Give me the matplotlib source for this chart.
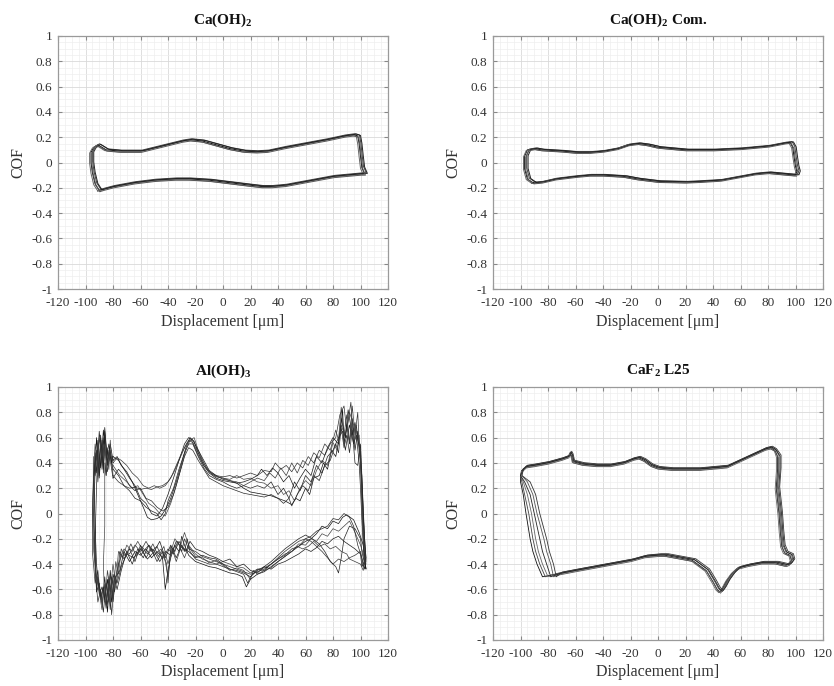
import matplotlib
matplotlib.use("Agg")
import matplotlib.pyplot as plt
from matplotlib.ticker import MultipleLocator
import numpy as np

plt.rcParams['font.family'] = ['Liberation Serif', 'DejaVu Serif']
plt.rcParams['mathtext.fontset'] = 'custom'
plt.rcParams['mathtext.rm'] = 'Liberation Serif'
plt.rcParams['mathtext.bf'] = 'Liberation Serif:bold'
plt.rcParams['axes.unicode_minus'] = False

titles = ["Ca(OH)$_\\mathbf{2}$", "Ca(OH)$_\\mathbf{2}$ Com.", "Al(OH)$_\\mathbf{3}$", "CaF$_\\mathbf{2}$ L25"]
x_ticks = [-120, -100, -80, -60, -40, -20, 0, 20, 40, 60, 80, 100, 120]
y_ticks = [-1, -0.8, -0.6, -0.4, -0.2, 0, 0.2, 0.4, 0.6, 0.8, 1]
y_tick_labels = ["-1", "-0.8", "-0.6", "-0.4", "-0.2", "0", "0.2", "0.4", "0.6", "0.8", "1"]

# ---- Ca(OH)2 : base loop + small cycle offsets ----
caoh_x = [-90, -93, -95, -96, -96, -94, -91, -85, -75, -60, -45, -30, -24, -15, -5, 5, 15, 24,
          32, 45, 60, 75, 88, 95, 98, 99, 100, 101, 103, 100, 90, 80, 70, 60, 45, 35, 28, 20,
          5, -10, -25, -35, -50, -65, -80, -87, -90]
caoh_y = [-0.22, -0.17, -0.08, 0.0, 0.08, 0.12, 0.14, 0.10, 0.09, 0.09, 0.13, 0.17, 0.18, 0.17,
          0.14, 0.11, 0.09, 0.085, 0.09, 0.12, 0.15, 0.18, 0.21, 0.22, 0.21, 0.15, 0.05, -0.04,
          -0.09, -0.09, -0.10, -0.11, -0.13, -0.15, -0.18, -0.19, -0.19, -0.18, -0.16, -0.14,
          -0.13, -0.13, -0.14, -0.16, -0.19, -0.21, -0.22]
caoh_dx = [0.0, 1.2, -1.0, 2.0, 0.6]
caoh_dy = [0.0, 0.008, -0.006, 0.004, -0.010]

# ---- Ca(OH)2 Com. ----
com_x = [-91, -95, -97, -97, -95, -90, -85, -70, -60, -50, -40, -30, -22, -15, -8, 0, 10, 20,
         40, 60, 80, 92, 96, 98, 99, 100, 101, 100, 90, 80, 70, 60, 45, 30, 20, 0, -15, -25,
         -40, -50, -60, -75, -85, -90, -91]
com_y = [-0.16, -0.13, -0.05, 0.05, 0.10, 0.11, 0.10, 0.09, 0.08, 0.08, 0.09, 0.11, 0.14, 0.15,
         0.14, 0.12, 0.11, 0.10, 0.10, 0.11, 0.13, 0.155, 0.16, 0.12, 0.04, -0.03, -0.07, -0.10,
         -0.09, -0.08, -0.09, -0.11, -0.14, -0.15, -0.155, -0.15, -0.13, -0.11, -0.10, -0.10,
         -0.11, -0.13, -0.155, -0.16, -0.16]
com_dx = [0.0, 1.5, -0.8, 2.5, 0.8]
com_dy = [0.0, 0.006, -0.005, 0.003, -0.008]

# ---- CaF2 L25 : shared top/right/bottom + per-cycle left edges ----
caf_top_x = [-99, -96, -90, -80, -70, -65, -64, -63, -62, -55, -45, -35, -25, -18, -14, -10, -5,
             0, 10, 20, 30, 40, 50, 60, 70, 78, 82, 85]
caf_top_y = [0.34, 0.37, 0.38, 0.40, 0.43, 0.45, 0.48, 0.46, 0.41, 0.39, 0.38, 0.38, 0.40, 0.43,
             0.44, 0.42, 0.38, 0.36, 0.35, 0.35, 0.35, 0.36, 0.37, 0.42, 0.47, 0.51, 0.52, 0.50]
caf_right_x = [87, 87, 86, 88, 89, 90, 92, 96, 97, 95, 93]
caf_right_y = [0.45, 0.35, 0.20, 0.00, -0.15, -0.26, -0.31, -0.33, -0.37, -0.40, -0.41]
caf_bot_x = [85, 75, 65, 58, 54, 50, 47, 45, 43, 40, 35, 25, 15, 5, 0, -10, -20, -40, -60, -72]
caf_bot_y = [-0.39, -0.39, -0.41, -0.43, -0.47, -0.53, -0.59, -0.62, -0.60, -0.54, -0.45, -0.37,
             -0.35, -0.33, -0.33, -0.34, -0.37, -0.41, -0.45, -0.475]
caf_left_y = [-0.50, -0.40, -0.30, -0.20, 0.00, 0.15, 0.25, 0.30]
caf_left_x = [[-84, -88, -91, -93, -96, -98, -100, -100],
              [-82, -86, -89, -91, -94, -97, -99, -100],
              [-80, -84, -87, -89, -92, -95, -98, -100],
              [-78, -81, -84, -86, -90, -93, -97, -100],
              [-76, -78, -81, -83, -88, -91, -95, -99],
              [-74, -76, -79, -81, -86, -89, -93, -99]]
caf_dx = [0.0, 1.0, -0.8, 1.8, 0.5, 2.5]
caf_dy = [0.0, 0.008, -0.006, 0.004, -0.010, 0.012]

# ---- Al(OH)3 : individual noisy cycles, (displacement, COF) points ----
al_cycle_1 = [(-80, 0.42), (-77, 0.45), (-74, 0.38), (-70, 0.33), (-66, 0.25), (-62, 0.15), (-58, 0.05),
              (-55, -0.03), (-52, -0.05), (-48, -0.04), (-45, -0.02), (-42, 0.03), (-38, 0.12), (-34, 0.25),
              (-30, 0.40), (-27, 0.52), (-24, 0.60), (-21, 0.57), (-18, 0.48), (-14, 0.38), (-10, 0.32),
              (-5, 0.28), (0, 0.26), (5, 0.25), (10, 0.24), (15, 0.20), (20, 0.17), (25, 0.16), (30, 0.15),
              (35, 0.14), (40, 0.12), (45, 0.10), (50, 0.07), (53, 0.12), (56, 0.10), (60, 0.20), (63, 0.15),
              (66, 0.28), (70, 0.30), (73, 0.40), (76, 0.35), (79, 0.50), (82, 0.45), (85, 0.62), (87, 0.82),
              (88, 0.55), (90, 0.70), (92, 0.55), (94, 0.75), (96, 0.50), (98, 0.65), (100, 0.45), (101, 0.20),
              (102, -0.10), (103, -0.35), (104, -0.44), (102, -0.25), (99, -0.15),
              (95, -0.05), (90, -0.01), (87, -0.03), (84, -0.08), (80, -0.06), (76, -0.12), (72, -0.10),
              (68, -0.16), (64, -0.20), (60, -0.22), (55, -0.26), (50, -0.30), (45, -0.34), (40, -0.38),
              (35, -0.42), (30, -0.46), (25, -0.48), (20, -0.52), (17, -0.58), (14, -0.50), (10, -0.48),
              (5, -0.47), (0, -0.45), (-5, -0.43), (-10, -0.42), (-15, -0.40), (-20, -0.38), (-25, -0.33),
              (-28, -0.25), (-30, -0.18), (-32, -0.30), (-35, -0.25), (-38, -0.35), (-40, -0.45), (-42, -0.60),
              (-44, -0.35), (-48, -0.30), (-52, -0.35), (-56, -0.28), (-60, -0.33), (-64, -0.30), (-68, -0.38),
              (-72, -0.30), (-75, -0.45), (-78, -0.50), (-80, -0.70), (-82, -0.45), (-84, -0.78), (-86, -0.50),
              (-88, -0.72), (-90, -0.55), (-92, -0.62), (-93, -0.35), (-94, 0.00), (-93, 0.35), (-92, 0.60),
              (-90, 0.30), (-89, 0.62), (-87, 0.35), (-86, 0.68), (-84, 0.40), (-82, 0.55), (-80, 0.42)]
al_cycle_2 = [(-80, 0.30), (-76, 0.25), (-72, 0.22), (-68, 0.20), (-64, 0.21), (-60, 0.19), (-56, 0.20),
              (-52, 0.19), (-48, 0.21), (-44, 0.22), (-40, 0.25), (-36, 0.32), (-32, 0.42), (-28, 0.52),
              (-25, 0.58), (-22, 0.56), (-18, 0.46), (-14, 0.38), (-10, 0.33), (-5, 0.30), (0, 0.29), (5, 0.30),
              (10, 0.28), (15, 0.30), (20, 0.32), (25, 0.30), (30, 0.34), (35, 0.33), (38, 0.40), (42, 0.35),
              (46, 0.38), (50, 0.33), (54, 0.40), (58, 0.36), (62, 0.45), (66, 0.40), (70, 0.50), (74, 0.46),
              (78, 0.55), (82, 0.60), (85, 0.78), (88, 0.85), (90, 0.65), (93, 0.88), (95, 0.55), (97, 0.70),
              (99, 0.50), (101, 0.30), (102, 0.00), (103, -0.25), (104, -0.38), (102, -0.42), (100, -0.30),
              (96, -0.33), (92, -0.35), (88, -0.38), (84, -0.36), (80, -0.40), (76, -0.35), (72, -0.30),
              (68, -0.26), (64, -0.22), (60, -0.20), (55, -0.22), (50, -0.26), (45, -0.30), (40, -0.35),
              (35, -0.40), (30, -0.44), (25, -0.46), (20, -0.48), (15, -0.46), (10, -0.44), (5, -0.42),
              (0, -0.40), (-5, -0.38), (-10, -0.36), (-15, -0.34), (-20, -0.30), (-25, -0.28), (-28, -0.20),
              (-30, -0.30), (-33, -0.22), (-36, -0.32), (-40, -0.28), (-44, -0.36), (-48, -0.26), (-52, -0.30),
              (-56, -0.22), (-60, -0.30), (-64, -0.25), (-68, -0.32), (-72, -0.28), (-76, -0.40), (-79, -0.55),
              (-81, -0.80), (-83, -0.50), (-85, -0.72), (-87, -0.60), (-89, -0.68), (-91, -0.45), (-93, -0.55),
              (-95, -0.30), (-95, 0.00), (-94, 0.30), (-92, 0.50), (-91, 0.25), (-89, 0.55), (-88, 0.35),
              (-86, 0.62), (-84, 0.40), (-82, 0.50), (-80, 0.30)]
al_cycle_3 = [(-80, 0.35), (-76, 0.30), (-72, 0.22), (-68, 0.18), (-64, 0.12), (-60, 0.10), (-56, 0.05),
              (-52, 0.02), (-48, 0.00), (-45, -0.05), (-42, 0.00), (-40, 0.10), (-36, 0.20), (-32, 0.35),
              (-28, 0.48), (-25, 0.55), (-22, 0.55), (-18, 0.45), (-14, 0.36), (-10, 0.30), (-5, 0.27),
              (0, 0.25), (5, 0.22), (10, 0.20), (15, 0.22), (20, 0.20), (25, 0.22), (30, 0.20), (35, 0.25),
              (40, 0.15), (44, 0.20), (48, 0.12), (52, 0.25), (56, 0.18), (60, 0.30), (64, 0.25), (68, 0.38),
              (72, 0.32), (76, 0.45), (80, 0.50), (84, 0.60), (87, 0.65), (89, 0.50), (92, 0.70), (95, 0.55),
              (97, 0.62), (99, 0.40), (100, 0.20), (101, -0.05), (102, -0.25), (103, -0.40), (101, -0.30),
              (100, -0.20), (96, -0.12), (92, -0.10), (88, -0.20), (86, -0.35), (84, -0.47), (82, -0.42),
              (78, -0.38), (74, -0.30), (70, -0.24), (65, -0.20), (60, -0.17), (55, -0.20), (50, -0.24),
              (45, -0.28), (40, -0.33), (35, -0.38), (30, -0.42), (25, -0.45), (20, -0.50), (15, -0.47),
              (10, -0.45), (5, -0.44), (0, -0.40), (-5, -0.36), (-10, -0.35), (-15, -0.33), (-20, -0.35),
              (-25, -0.30), (-30, -0.27), (-34, -0.22), (-38, -0.33), (-42, -0.30), (-46, -0.38), (-50, -0.30),
              (-55, -0.36), (-60, -0.28), (-65, -0.35), (-70, -0.32), (-74, -0.42), (-77, -0.55), (-79, -0.48),
              (-81, -0.70), (-83, -0.52), (-85, -0.75), (-87, -0.58), (-89, -0.66), (-91, -0.50), (-92, -0.62),
              (-93, -0.20), (-92, 0.20), (-91, 0.50), (-90, 0.28), (-88, 0.58), (-87, 0.32), (-86, 0.65),
              (-84, 0.38), (-82, 0.45), (-80, 0.35)]
al_cycle_4 = [(-80, 0.38), (-75, 0.30), (-70, 0.25), (-66, 0.20), (-62, 0.22), (-58, 0.15), (-54, 0.08),
              (-50, 0.05), (-46, 0.00), (-42, -0.02), (-38, 0.08), (-34, 0.22), (-30, 0.38), (-27, 0.50),
              (-24, 0.58), (-21, 0.60), (-18, 0.50), (-14, 0.40), (-10, 0.33), (-5, 0.29), (0, 0.28), (5, 0.27),
              (10, 0.30), (15, 0.27), (20, 0.28), (25, 0.25), (30, 0.24), (35, 0.20), (40, 0.22), (44, 0.15),
              (48, 0.18), (52, 0.10), (56, 0.20), (60, 0.26), (64, 0.22), (68, 0.34), (72, 0.42), (76, 0.38),
              (80, 0.56), (83, 0.50), (86, 0.70), (89, 0.60), (92, 0.80), (95, 0.70), (97, 0.58), (99, 0.62),
              (100, 0.40), (101, 0.10), (102, -0.15), (103, -0.30), (104, -0.40), (102, -0.32), (100, -0.25),
              (96, -0.15), (92, -0.06), (88, -0.10), (84, -0.14), (80, -0.12), (76, -0.18), (72, -0.16),
              (68, -0.22), (64, -0.20), (60, -0.25), (55, -0.24), (50, -0.30), (45, -0.32), (40, -0.36),
              (35, -0.40), (30, -0.43), (25, -0.44), (20, -0.47), (15, -0.43), (10, -0.42), (5, -0.40),
              (0, -0.38), (-5, -0.40), (-10, -0.38), (-15, -0.36), (-20, -0.32), (-25, -0.25), (-28, -0.15),
              (-31, -0.26), (-35, -0.20), (-38, -0.30), (-40, -0.50), (-42, -0.38), (-45, -0.28), (-50, -0.33),
              (-54, -0.25), (-58, -0.30), (-62, -0.22), (-66, -0.30), (-70, -0.25), (-73, -0.35), (-76, -0.30),
              (-78, -0.55), (-80, -0.40), (-82, -0.62), (-84, -0.45), (-86, -0.70), (-87, -0.40), (-86, -0.10),
              (-86, 0.20), (-86, 0.40), (-85, 0.30), (-84, 0.52), (-83, 0.35), (-82, 0.58), (-81, 0.40),
              (-80, 0.38)]
al_cycle_5 = [(-80, 0.45), (-76, 0.42), (-72, 0.35), (-68, 0.28), (-64, 0.22), (-60, 0.12), (-56, 0.08),
              (-52, 0.00), (-48, -0.02), (-44, 0.04), (-40, 0.15), (-36, 0.28), (-32, 0.42), (-28, 0.55),
              (-25, 0.60), (-22, 0.58), (-18, 0.50), (-14, 0.42), (-10, 0.34), (-5, 0.30), (0, 0.27), (5, 0.26),
              (10, 0.24), (15, 0.25), (20, 0.27), (25, 0.30), (28, 0.35), (32, 0.30), (36, 0.36), (40, 0.32),
              (44, 0.25), (48, 0.30), (52, 0.20), (56, 0.28), (60, 0.35), (64, 0.30), (68, 0.45), (72, 0.40),
              (76, 0.52), (80, 0.60), (84, 0.55), (86, 0.75), (89, 0.60), (91, 0.82), (94, 0.62), (96, 0.72),
              (98, 0.58), (100, 0.50), (101, 0.25), (102, 0.00), (103, -0.20), (104, -0.35), (101, -0.42),
              (100, -0.32), (96, -0.28), (92, -0.25), (88, -0.22), (84, -0.18), (80, -0.20), (76, -0.24),
              (72, -0.22), (68, -0.27), (64, -0.30), (60, -0.28), (55, -0.32), (50, -0.35), (45, -0.38),
              (40, -0.40), (35, -0.44), (30, -0.42), (25, -0.47), (20, -0.45), (15, -0.40), (10, -0.42),
              (5, -0.36), (0, -0.38), (-5, -0.35), (-10, -0.33), (-15, -0.30), (-20, -0.28), (-24, -0.22),
              (-27, -0.30), (-30, -0.25), (-34, -0.35), (-38, -0.25), (-42, -0.35), (-46, -0.22), (-50, -0.30),
              (-54, -0.25), (-58, -0.35), (-62, -0.28), (-66, -0.40), (-70, -0.30), (-74, -0.45), (-77, -0.60),
              (-80, -0.48), (-82, -0.76), (-84, -0.52), (-86, -0.68), (-88, -0.58), (-90, -0.64), (-92, -0.40),
              (-93, -0.10), (-94, 0.25), (-94, 0.45), (-93, 0.30), (-91, 0.58), (-89, 0.36), (-87, 0.66),
              (-85, 0.42), (-83, 0.55), (-81, 0.40), (-80, 0.45)]
al_cycle_6 = [(-80, 0.28), (-76, 0.35), (-72, 0.30), (-68, 0.22), (-64, 0.18), (-60, 0.20), (-56, 0.12),
              (-52, 0.10), (-48, 0.05), (-44, 0.02), (-40, 0.05), (-36, 0.15), (-32, 0.30), (-28, 0.45),
              (-25, 0.52), (-22, 0.50), (-18, 0.42), (-14, 0.35), (-10, 0.28), (-5, 0.25), (0, 0.22), (5, 0.20),
              (10, 0.18), (15, 0.16), (20, 0.15), (25, 0.14), (30, 0.13), (35, 0.15), (40, 0.12), (44, 0.08),
              (48, 0.12), (50, 0.06), (54, 0.15), (58, 0.22), (62, 0.18), (66, 0.30), (70, 0.26), (74, 0.38),
              (78, 0.42), (82, 0.55), (84, 0.48), (86, 0.68), (88, 0.52), (90, 0.62), (92, 0.48), (94, 0.66),
              (96, 0.40), (98, 0.38), (100, 0.55), (101, 0.30), (102, 0.05), (103, -0.20), (104, -0.36),
              (103, -0.44), (101, -0.35),
              (98, -0.25), (95, -0.10), (92, -0.03), (88, 0.00), (84, -0.05), (80, -0.04), (76, -0.10),
              (72, -0.12), (68, -0.14), (64, -0.18), (60, -0.20), (55, -0.26), (50, -0.28), (45, -0.33),
              (40, -0.36), (35, -0.40), (30, -0.45), (25, -0.44), (20, -0.50), (18, -0.55), (15, -0.48),
              (10, -0.46), (5, -0.44), (0, -0.42), (-5, -0.40), (-10, -0.40), (-15, -0.38), (-20, -0.36),
              (-24, -0.30), (-26, -0.20), (-28, -0.30), (-32, -0.22), (-35, -0.30), (-38, -0.26), (-40, -0.55),
              (-41, -0.40), (-44, -0.30), (-48, -0.38), (-52, -0.28), (-56, -0.35), (-60, -0.25), (-64, -0.38),
              (-68, -0.28), (-72, -0.36), (-75, -0.30), (-77, -0.52), (-79, -0.62), (-81, -0.50), (-83, -0.70),
              (-85, -0.55), (-87, -0.78), (-89, -0.60), (-91, -0.70), (-93, -0.45), (-94, -0.10), (-94, 0.20),
              (-93, 0.48), (-92, 0.32), (-90, 0.65), (-88, 0.40), (-87, 0.60), (-85, 0.30), (-83, 0.50),
              (-81, 0.35), (-80, 0.28)]
al_cycle_7 = [(-80, 0.40), (-77, 0.44), (-74, 0.42), (-70, 0.38), (-66, 0.32), (-62, 0.28), (-58, 0.22),
              (-54, 0.20), (-50, 0.22), (-46, 0.20), (-42, 0.22), (-38, 0.28), (-34, 0.38), (-30, 0.48),
              (-26, 0.56), (-23, 0.58), (-20, 0.52), (-16, 0.44), (-12, 0.36), (-8, 0.31), (-4, 0.29),
              (0, 0.28), (5, 0.26), (10, 0.25), (15, 0.22), (20, 0.25), (25, 0.28), (30, 0.26), (34, 0.32),
              (38, 0.28), (42, 0.36), (46, 0.30), (50, 0.40), (54, 0.32), (58, 0.42), (62, 0.38), (66, 0.48),
              (70, 0.44), (74, 0.55), (78, 0.50), (82, 0.66), (84, 0.58), (86, 0.84), (88, 0.62), (90, 0.78),
              (92, 0.56), (94, 0.85), (96, 0.62), (98, 0.80), (99, 0.55), (100, 0.40), (101, 0.10), (102, -0.20),
              (103, -0.38), (102, -0.45), (100, -0.40),
              (96, -0.38), (92, -0.36), (90, -0.32), (86, -0.30), (82, -0.26), (78, -0.28), (74, -0.24),
              (70, -0.26), (66, -0.22), (62, -0.26), (58, -0.28), (54, -0.26), (50, -0.30), (45, -0.34),
              (40, -0.38), (35, -0.43), (30, -0.45), (25, -0.48), (22, -0.45), (20, -0.52), (15, -0.45),
              (10, -0.43), (5, -0.45), (0, -0.41), (-5, -0.37), (-10, -0.39), (-15, -0.35), (-20, -0.34),
              (-25, -0.26), (-28, -0.35), (-31, -0.28), (-34, -0.38), (-37, -0.28), (-40, -0.40), (-43, -0.26),
              (-47, -0.34), (-51, -0.24), (-55, -0.32), (-59, -0.26), (-63, -0.34), (-67, -0.24), (-71, -0.34),
              (-74, -0.28), (-76, -0.48), (-78, -0.38), (-80, -0.66), (-82, -0.48), (-84, -0.72), (-86, -0.56),
              (-88, -0.76), (-90, -0.62), (-92, -0.50), (-94, -0.30), (-95, 0.05), (-94, 0.35), (-93, 0.55),
              (-91, 0.38), (-90, 0.60), (-88, 0.45), (-86, 0.55), (-84, 0.33), (-82, 0.48), (-80, 0.40)]
al_cycles = [al_cycle_1, al_cycle_2, al_cycle_3, al_cycle_4, al_cycle_5, al_cycle_6, al_cycle_7]
al_colors = ["#111111", "#333333", "#222222", "#444444", "#1a1a1a", "#2a2a2a", "#3a3a3a"]

fig = plt.figure(figsize=(8.34, 6.86), dpi=100)
positions = [
    [58 / 834, 1 - 289 / 686, 330 / 834, 253 / 686],
    [493 / 834, 1 - 289 / 686, 330 / 834, 253 / 686],
    [58 / 834, 1 - 640 / 686, 330 / 834, 253 / 686],
    [493 / 834, 1 - 640 / 686, 330 / 834, 253 / 686],
]
axes = [fig.add_axes(p) for p in positions]

loop_colors = ["#111111", "#444444", "#666666", "#222222", "#555555", "#333333"]

ax = axes[0]
for i in range(len(caoh_dx)):
    ax.plot(np.array(caoh_x) + caoh_dx[i], np.array(caoh_y) + caoh_dy[i],
            color=loop_colors[i], lw=0.7)

ax = axes[1]
for i in range(len(com_dx)):
    ax.plot(np.array(com_x) + com_dx[i], np.array(com_y) + com_dy[i],
            color=loop_colors[i], lw=0.7)

ax = axes[2]
for cyc, c in zip(al_cycles, al_colors):
    xs = [p[0] for p in cyc]
    ys = [p[1] for p in cyc]
    ax.plot(xs, ys, color=c, lw=0.5)

ax = axes[3]
for i in range(len(caf_left_x)):
    lx = caf_left_x[i]
    xs = np.concatenate([np.array(caf_top_x) + caf_dx[i] * 0.5, np.array(caf_right_x) + caf_dx[i],
                         np.array(caf_bot_x) + caf_dx[i], lx, [caf_top_x[0] + caf_dx[i] * 0.5]])
    ys = np.concatenate([np.array(caf_top_y) + caf_dy[i], np.array(caf_right_y) + caf_dy[i],
                         np.array(caf_bot_y) + caf_dy[i], caf_left_y, [caf_top_y[0] + caf_dy[i]]])
    ax.plot(xs, ys, color=loop_colors[i], lw=0.6)

for ax, t in zip(axes, titles):
    ax.set_xlim(-120, 120)
    ax.set_ylim(-1, 1)
    ax.set_xticks(x_ticks)
    ax.set_yticks(y_ticks)
    ax.set_yticklabels(y_tick_labels)
    ax.xaxis.set_minor_locator(MultipleLocator(5))
    ax.yaxis.set_minor_locator(MultipleLocator(0.05))
    ax.grid(which='major', color='#d9d9d9', lw=0.6)
    ax.grid(which='minor', color='#eeeeee', lw=0.5)
    ax.set_axisbelow(True)
    ax.tick_params(which='major', direction='in', length=3, color='#888888',
                   top=True, right=True, labelsize=9.5, labelcolor='#333333')
    ax.tick_params(axis='x', which='major', pad=6)
    ax.tick_params(axis='y', which='major', pad=4)
    ax.tick_params(which='minor', length=0)
    for s in ax.spines.values():
        s.set_color('#9a9a9a')
        s.set_linewidth(0.9)
    ax.set_xlabel("Displacement [μm]", fontsize=11.5, color='#333333', labelpad=3)
    ax.set_ylabel("COF", fontsize=11.5, color='#333333', labelpad=4)
    ax.set_title(t, fontsize=11, fontweight='bold', color='#111111', pad=9)

fig.savefig("out.png", dpi=100)
